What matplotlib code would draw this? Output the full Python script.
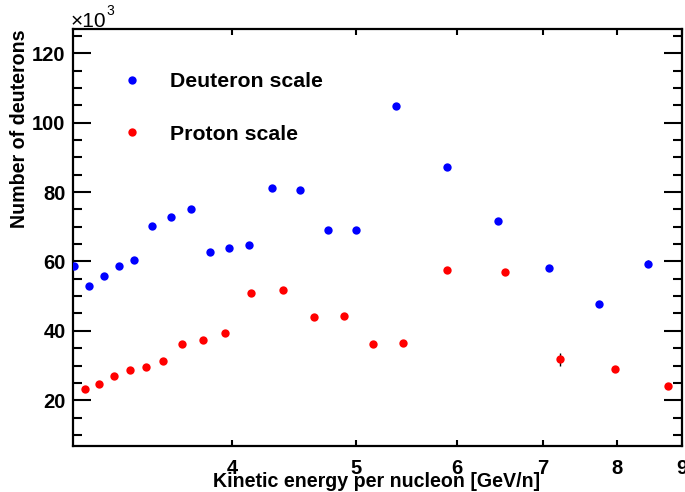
import matplotlib
matplotlib.use("Agg")
import matplotlib.pyplot as plt
from matplotlib.ticker import FixedLocator, NullLocator, MultipleLocator, FixedFormatter
from matplotlib.lines import Line2D

plt.rcParams['font.family'] = ['Liberation Sans', 'DejaVu Sans']

# Kinetic energy per nucleon [GeV/n] and counts (in units of 10^3)
deut_energy = [3.008, 3.092, 3.175, 3.262, 3.353, 3.461, 3.584, 3.712, 3.846, 3.977,
               4.123, 4.301, 4.519, 4.753, 4.998, 5.378, 5.894, 6.464, 7.080, 7.756, 8.467]
deut_counts = [58.8, 53.0, 55.9, 58.6, 60.3, 70.2, 72.8, 75.1, 62.6, 64.0,
               64.8, 81.3, 80.6, 69.1, 69.1, 104.8, 87.2, 71.7, 58.2, 47.8, 59.3]
deut_err = [0.6, 0.6, 0.6, 0.6, 0.6, 0.7, 0.7, 0.7, 0.7, 0.7,
            0.7, 0.8, 0.8, 0.8, 0.8, 0.9, 0.9, 0.9, 0.9, 0.9, 1.0]

prot_energy = [3.068, 3.148, 3.234, 3.327, 3.426, 3.532, 3.655, 3.796, 3.949, 4.141,
               4.381, 4.635, 4.891, 5.160, 5.443, 5.897, 6.539, 7.227, 7.969, 8.770]
prot_counts = [23.3, 24.7, 27.0, 28.7, 29.7, 31.2, 36.2, 37.3, 39.4, 50.8,
               51.7, 43.9, 44.2, 36.3, 36.6, 57.5, 56.9, 31.8, 28.9, 24.0]
prot_err = [0.4, 0.4, 0.4, 0.4, 0.4, 0.5, 0.5, 0.5, 0.5, 0.6,
            0.6, 0.6, 0.6, 0.6, 0.6, 0.8, 0.8, 1.9, 0.9, 0.9]

x_ticks = [4, 5, 6, 7, 8, 9]
x_ticklabels = ['4', '5', '6', '7', '8', '9']

series_labels = ['Deuteron scale', 'Proton scale']
series_colors = ['#0000ff', '#ff0000']

fig = plt.figure(figsize=(6.85, 4.92), dpi=100)
ax = fig.add_axes([72.5 / 685, 46 / 492, (682 - 72.5) / 685, (446 - 29) / 492])

ms = 6.0
ax.errorbar(deut_energy, deut_counts, yerr=deut_err, fmt='o', color=series_colors[0],
            ms=ms, mec='none', ecolor='black', elinewidth=1.0, capsize=0, zorder=3)
ax.errorbar(prot_energy, prot_counts, yerr=prot_err, fmt='o', color=series_colors[1],
            ms=ms, mec='none', ecolor='black', elinewidth=1.0, capsize=0, zorder=3)

ax.set_xscale('log')
ax.set_xlim(3.0, 9.0)
ax.set_ylim(6.8, 127.0)

ax.xaxis.set_major_locator(FixedLocator(x_ticks))
ax.xaxis.set_major_formatter(FixedFormatter(x_ticklabels))
ax.xaxis.set_minor_locator(NullLocator())
ax.yaxis.set_major_locator(MultipleLocator(20))
ax.yaxis.set_minor_locator(MultipleLocator(5))

for sp in ax.spines.values():
    sp.set_linewidth(1.6)

ax.tick_params(axis='both', which='both', direction='in', top=True, right=True, width=1.5)
ax.tick_params(axis='y', which='major', length=13, pad=5)
ax.tick_params(axis='y', which='minor', length=6.5)
ax.tick_params(axis='x', which='major', length=4.3, pad=9)
for lbl in ax.get_xticklabels() + ax.get_yticklabels():
    lbl.set_fontweight('bold')
    lbl.set_fontsize(14.5)

# axis titles
fig.text(377 / 685, 1 - 487 / 492, 'Kinetic energy per nucleon [GeV/n]', ha='center',
         va='baseline', fontsize=14.1, fontweight='bold')
fig.text(29 / 685, 1 - 30 / 492, 'Number of deuterons', rotation=90, ha='right',
         va='top', fontsize=14.1, fontweight='bold')

# exponent label
fig.text(71 / 685, 1 - 27 / 492, '\u00d710', ha='left', va='baseline', fontsize=15)
fig.text(106 / 685, 1 - 15 / 492, '3', ha='left', va='baseline', fontsize=10)

handles = [Line2D([], [], ls='none', marker='o', ms=ms, mec='none', color=c)
           for c in series_colors]
leg = ax.legend(handles, series_labels, loc='upper left', bbox_to_anchor=(0.07, 0.922),
                frameon=False, handlelength=0.6, handletextpad=1.48, labelspacing=1.57,
                borderpad=0, prop={'size': 15.3, 'weight': 'bold'})

fig.savefig('out.png', dpi=100)
